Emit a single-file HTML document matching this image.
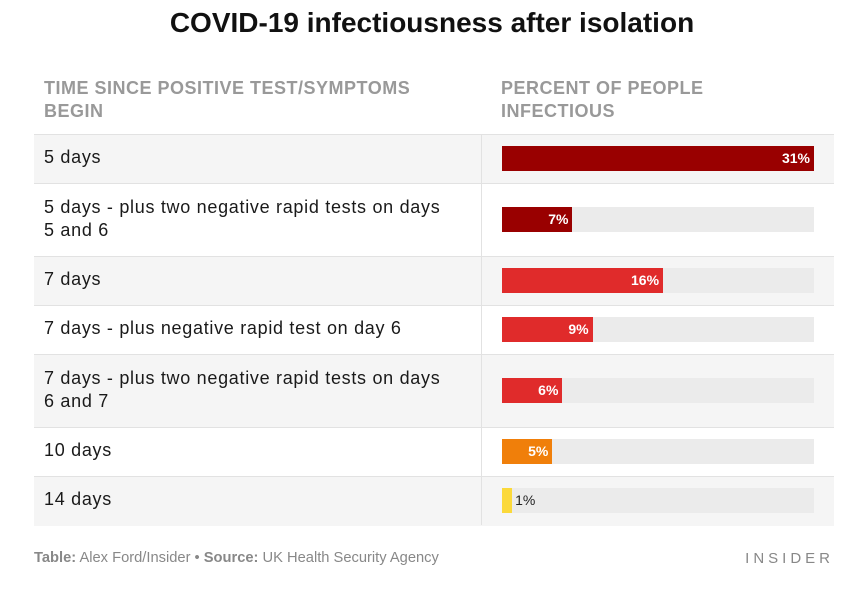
<!DOCTYPE html>
<html><head><meta charset="utf-8"><style>
body{margin:0;width:864px;height:596px;background:#fff;font-family:"Liberation Sans",sans-serif;position:relative;overflow:hidden}
#title{position:absolute;top:7px;left:0;width:864px;text-align:center;font-size:28px;font-weight:bold;color:#111}
.hdr{position:absolute;top:77px;font-size:18px;letter-spacing:0.5px;font-weight:bold;color:#999;line-height:23px}
.row{position:absolute;left:34px;width:800px;border-top:1px solid #e2e2e2}
.lbl{position:absolute;left:44px;font-size:18px;letter-spacing:0.7px;color:#1a1a1a;line-height:23px;width:430px}
.track{position:absolute;left:502px;width:312px;height:25px;background:#ebebeb}
.bar{position:absolute;left:0;top:0;height:25px}
.val{position:absolute;top:4px;font-size:14px;font-weight:bold;color:#fff}
#foot{position:absolute;left:34px;top:550px;font-size:14.7px;color:#888}
#brand{position:absolute;right:30px;top:550px;font-size:15px;letter-spacing:4px;color:#888}
#div{position:absolute;left:481px;top:134px;width:1px;height:391px;background:#e2e2e2}
</style></head><body>
<div id="title">COVID-19 infectiousness after isolation</div>
<div class="hdr" style="left:44px">TIME SINCE POSITIVE TEST/SYMPTOMS<br>BEGIN</div>
<div class="hdr" style="left:501px">PERCENT OF PEOPLE<br>INFECTIOUS</div>
<div id="rows"></div>
<div id="div"></div>
<div id="foot"><b>Table:</b> Alex Ford/Insider • <b>Source:</b> UK Health Security Agency</div>
<div id="brand">INSIDER</div>
<script>
const categories=["5 days","5 days - plus two negative rapid tests on days<br>5 and 6","7 days","7 days - plus negative rapid test on day 6","7 days - plus two negative rapid tests on days<br>6 and 7","10 days","14 days"];
const values=[31,7,16,9,6,5,1];
const valueLabels=["31%","7%","16%","9%","6%","5%","1%"];
const colors=["#990000","#990000","#e02b2b","#e02b2b","#e02b2b","#f07f0a","#fbd93a"];
const rowTops=[134,183,256,305,354,427,476,525];
const maxV=31,trackW=312;
function x(v){return v/maxV*trackW;}
const root=document.getElementById('rows');
for(let i=0;i<categories.length;i++){
  const t=rowTops[i],h=rowTops[i+1]-t;
  const r=document.createElement('div');r.className='row';
  r.style.top=t+'px';r.style.height=h+'px';r.style.background=i%2==0?'#f5f5f5':'#fff';
  
  
  root.appendChild(r);
  const l=document.createElement('div');l.className='lbl';l.innerHTML=categories[i];
  const lines=categories[i].indexOf('<br>')>=0?2:1;
  l.style.top=(t+h/2-lines*11.5-1)+'px';
  
  
  root.appendChild(l);
  const tr=document.createElement('div');tr.className='track';tr.style.top=(t+h/2-12.5)+'px';
  
  
  const b=document.createElement('div');b.className='bar';b.style.width=x(values[i])+'px';b.style.background=colors[i];
  
  
  tr.appendChild(b);
  const v=document.createElement('div');v.className='val';v.textContent=valueLabels[i];
  
  
  if(x(values[i])<30){v.style.left=(x(values[i])+3)+'px';v.style.color='#222';v.style.fontWeight='normal';}
  else{v.style.right=(trackW-x(values[i])+4)+'px';}
  tr.appendChild(v);
  root.appendChild(tr);
}
</script>
</body></html>
